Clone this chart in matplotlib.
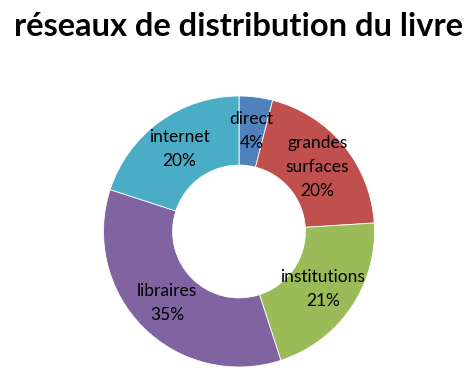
import numpy as np
import matplotlib
matplotlib.use("Agg")
import matplotlib.pyplot as plt

title = "réseaux de distribution du livre"
categories = ["direct", "grandes\nsurfaces", "institutions", "libraires", "internet"]
values = [4, 20, 21, 35, 20]
colors = ["#4F81BD", "#C0504D", "#9BBB59", "#8064A2", "#4BACC6"]

W, H, DPI = 472, 381, 100
fig = plt.figure(figsize=(W / DPI, H / DPI), dpi=DPI)
ax = fig.add_axes([0, 0, 1, 1])

wedges, _ = ax.pie(values, colors=colors, startangle=90, counterclock=False,
                   radius=1.0, wedgeprops=dict(width=0.51, edgecolor="white", linewidth=0.6))

R = 135.5
cx, cy = 239, 231.5
ax.set_xlim(-cx / R, (W - cx) / R)
ax.set_ylim(-(H - cy) / R, cy / R)
ax.set_aspect("equal")
ax.axis("off")

total = sum(values)
for w, lab, v in zip(wedges, categories, values):
    ang = np.deg2rad((w.theta1 + w.theta2) / 2)
    r = 0.75
    ax.text(r * np.cos(ang), r * np.sin(ang), f"{lab}\n{round(100 * v / total)}%",
            ha="center", va="center", fontsize=12.5, family="Lato",
            linespacing=1.6, color="black")

fig.text(238 / W, 1 - 27 / H, title, ha="center", va="center",
         fontsize=23.5, fontweight="bold", family="Lato")

fig.savefig("out.png", dpi=DPI)
